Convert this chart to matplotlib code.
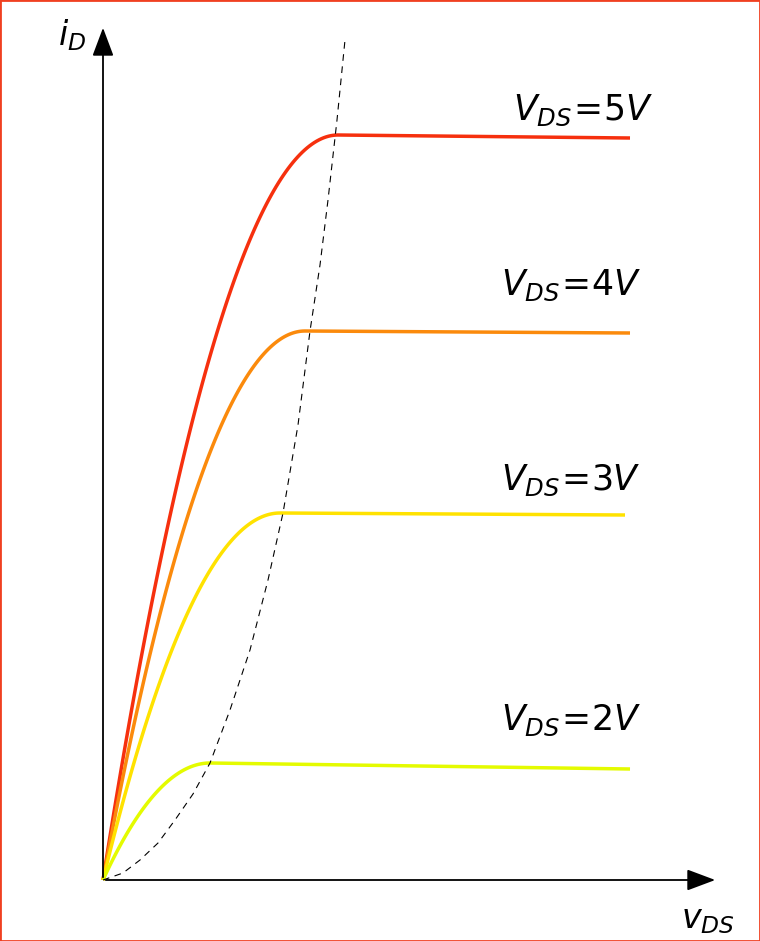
import matplotlib
matplotlib.use("Agg")
import matplotlib.pyplot as plt
import numpy as np
from matplotlib.patches import Rectangle

labels = ["5V", "4V", "3V", "2V"]
colors = ["#f6300e", "#fb8a0c", "#ffe200", "#e4fb00"]
v_sat = [235, 202, 177, 107]
i_sat = [745, 549, 367, 117]
v_end = [527, 527, 522, 527]
i_end = [742, 547, 365, 111]
label_pos = [(410, 760), (398, 585), (398, 390), (398, 150)]
dash_x = [0, 20, 37, 55, 72, 90, 107, 127, 147, 165, 180, 195, 207, 217, 225, 234, 242]
dash_y = [0, 7, 20, 37, 60, 86, 117, 170, 230, 300, 367, 455, 549, 615, 680, 760, 840]

fig = plt.figure(figsize=(7.6, 9.41), dpi=100)
ax = fig.add_axes([0, 0, 1, 1])
ax.set_xlim(-103, 657)
ax.set_ylim(-61, 880)
ax.axis("off")
ax.add_patch(Rectangle((0, 0), 1, 1, transform=fig.transFigure, fill=False,
                       edgecolor="#f04020", lw=2))

for lab, c, vs, isat, ve, ie, (lx, ly) in zip(labels, colors, v_sat, i_sat, v_end, i_end, label_pos):
    x = np.linspace(0, vs, 100)
    y = isat * (2 * x / vs - (x / vs) ** 2)
    ax.plot(np.r_[x, ve], np.r_[y, ie], color=c, lw=2.5, solid_capstyle="butt")
    ax.text(lx, ly, r"$V_{DS}\!=\!" + lab[0] + r"V$", fontsize=25, color="black")

ax.plot(dash_x, dash_y, color="black", lw=0.8, ls=(0, (6, 5)))

ax.annotate("", xy=(615, 0), xytext=(0, 0),
            arrowprops=dict(arrowstyle="-|>,head_length=0.8,head_width=0.3", color="black", lw=1.3, mutation_scale=22))
ax.annotate("", xy=(0, 855), xytext=(0, 0),
            arrowprops=dict(arrowstyle="-|>,head_length=0.8,head_width=0.3", color="black", lw=1.3, mutation_scale=22))
ax.text(-45, 835, r"$i_D$", fontsize=24)
ax.text(578, -48, r"$v_{DS}$", fontsize=24)

fig.savefig("out.png", dpi=100)
